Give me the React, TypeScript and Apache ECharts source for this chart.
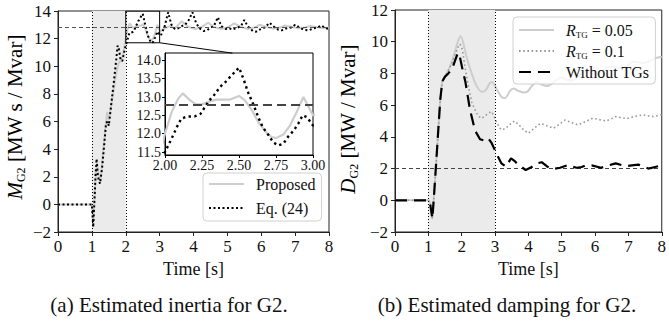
import React, { useEffect, useRef } from 'react';
import * as echarts from 'echarts';

// ---------- data ----------
const inertiaReference = 12.8;
const dampingReference = 2;
const faultWindowA = [1, 2];
const faultWindowB = [1, 3];
const zoomBox = [[2, 11.7], [3, 11.7], [3, 14], [2, 14], [2, 11.7]];
const zoomConnector = [[3, 11.7], [5.15, 10.95]];
const insetTicksY = [11.5, 12.0, 12.5, 13.0, 13.5, 14.0];

const proposedM = [
  [0, 0], [1.0, 0], [1.04, -1.4], [1.1, 1.5], [1.15, 3.0], [1.2, 2.2], [1.26, 1.8], [1.33, 3.8],
  [1.4, 5.6], [1.45, 6.7], [1.5, 6.1], [1.6, 7.6], [1.7, 9.2], [1.78, 10.2], [1.85, 10.4], [1.92, 10.8],
  [2.0, 12.0], [2.045, 12.59], [2.09, 12.96], [2.12, 13.1], [2.17, 12.91], [2.21, 12.8], [2.25, 12.8],
  [2.3, 12.88], [2.35, 12.93], [2.44, 12.93], [2.5, 13.03], [2.54, 12.91], [2.59, 12.62], [2.63, 12.32],
  [2.68, 12.05], [2.72, 11.91], [2.75, 11.88], [2.8, 11.98], [2.845, 12.23], [2.89, 12.59], [2.935, 13.0],
  [2.97, 12.73], [3.0, 12.5], [3.15, 12.75], [3.3, 12.9], [3.45, 12.75], [3.65, 13.25], [3.85, 12.85],
  [4.05, 12.7], [4.25, 12.85], [4.43, 13.15], [4.6, 12.85], [4.8, 12.7], [5.0, 12.8], [5.2, 13.1],
  [5.4, 12.85], [5.6, 12.7], [5.8, 12.8], [5.95, 13.0], [6.15, 12.85], [6.35, 12.72], [6.55, 12.8],
  [6.7, 12.95], [6.9, 12.85], [7.1, 12.75], [7.3, 12.8], [7.45, 12.92], [7.65, 12.82], [7.85, 12.75], [8.0, 12.8],
];

const eq24M = [
  [0, 0], [1.0, 0], [1.04, -1.65], [1.08, 0.5], [1.11, 2.2], [1.14, 3.3], [1.17, 2.2], [1.2, 1.8],
  [1.24, 1.5], [1.3, 2.6], [1.36, 4.2], [1.42, 5.9], [1.47, 6.0], [1.5, 5.7], [1.57, 7.2], [1.65, 8.9],
  [1.72, 10.5], [1.76, 11.5], [1.8, 11.2], [1.85, 10.4], [1.9, 10.4], [1.95, 11.0], [2.0, 11.5],
  [2.045, 11.87], [2.08, 12.18], [2.11, 12.41], [2.15, 12.47], [2.2, 12.47], [2.24, 12.54], [2.27, 12.73],
  [2.3, 12.91], [2.34, 13.09], [2.37, 13.27], [2.42, 13.45], [2.44, 13.55], [2.5, 13.8], [2.53, 13.5],
  [2.56, 13.14], [2.6, 12.77], [2.63, 12.45], [2.66, 12.18], [2.7, 11.96], [2.73, 11.77], [2.765, 11.68],
  [2.8, 11.73], [2.83, 11.91], [2.87, 12.09], [2.9, 12.27], [2.93, 12.5], [2.96, 12.45], [3.0, 12.22],
  [3.05, 12.3], [3.15, 12.9], [3.25, 13.9], [3.35, 13.0], [3.45, 12.7], [3.55, 12.75], [3.65, 12.9],
  [3.75, 13.0], [3.85, 13.3], [3.97, 13.9], [4.08, 13.1], [4.2, 12.7], [4.3, 12.55], [4.4, 12.6],
  [4.5, 12.8], [4.6, 12.9], [4.72, 13.55], [4.82, 12.9], [4.95, 12.7], [5.05, 12.75], [5.15, 12.65],
  [5.3, 12.8], [5.4, 12.9], [5.5, 13.35], [5.6, 12.9], [5.75, 12.55], [5.85, 12.5], [5.95, 12.65],
  [6.1, 12.8], [6.25, 13.15], [6.35, 12.9], [6.5, 12.65], [6.6, 12.6], [6.75, 12.75], [6.9, 12.8],
  [7.0, 13.0], [7.1, 12.85], [7.25, 12.65], [7.4, 12.6], [7.55, 12.75], [7.65, 12.8], [7.78, 12.95],
  [7.9, 12.75], [8.0, 12.7],
];

const rtg005D = [
  [0, 0], [1.0, 0], [1.06, -0.3], [1.12, -1.15], [1.17, 0.3], [1.23, 2.2], [1.3, 4.5], [1.36, 6.4],
  [1.42, 7.5], [1.5, 7.8], [1.6, 8.2], [1.7, 8.7], [1.8, 9.4], [1.9, 10.1], [1.97, 10.35], [2.05, 9.9],
  [2.15, 9.0], [2.3, 8.0], [2.45, 7.2], [2.6, 6.85], [2.72, 6.95], [2.85, 7.4], [2.92, 7.45], [3.05, 7.0],
  [3.2, 6.5], [3.3, 6.45], [3.45, 6.9], [3.55, 7.05], [3.7, 6.9], [3.85, 6.8], [3.97, 6.85], [4.1, 7.2],
  [4.25, 7.45], [4.4, 7.3], [4.55, 7.2], [4.7, 7.35], [4.85, 7.6], [5.0, 7.75], [5.15, 7.6], [5.3, 7.55],
  [5.45, 7.75], [5.6, 8.0], [5.75, 8.15], [5.9, 8.0], [6.05, 7.95], [6.2, 8.15], [6.4, 8.4], [6.55, 8.45],
  [6.7, 8.35], [6.85, 8.35], [7.0, 8.55], [7.15, 8.75], [7.3, 8.7], [7.45, 8.65], [7.6, 8.75], [7.8, 8.95],
  [8.0, 9.05],
];

const rtg01D = [
  [0, 0], [1.0, 0], [1.06, -0.3], [1.12, -1.15], [1.17, 0.3], [1.23, 2.2], [1.3, 4.5], [1.36, 6.4],
  [1.42, 7.5], [1.5, 7.8], [1.6, 8.2], [1.7, 8.6], [1.8, 9.2], [1.9, 9.7], [1.95, 9.85], [2.02, 9.5],
  [2.1, 8.4], [2.2, 7.2], [2.3, 6.2], [2.4, 5.7], [2.5, 5.3], [2.6, 5.17], [2.75, 5.4], [2.88, 5.6],
  [2.95, 5.4], [3.05, 4.9], [3.18, 4.45], [3.3, 4.5], [3.43, 4.75], [3.58, 5.0], [3.7, 4.8], [3.85, 4.45],
  [4.0, 4.23], [4.15, 4.5], [4.36, 4.85], [4.55, 4.7], [4.75, 4.54], [4.9, 4.75], [5.1, 5.06], [5.3, 4.9],
  [5.49, 4.75], [5.7, 4.95], [5.93, 5.17], [6.1, 5.1], [6.33, 5.0], [6.5, 5.15], [6.62, 5.28], [6.8, 5.2],
  [6.96, 5.15], [7.2, 5.3], [7.45, 5.38], [7.6, 5.32], [7.75, 5.28], [8.0, 5.4],
];

const withoutTgD = [
  [0, 0], [1.0, 0], [1.06, -0.3], [1.12, -1.15], [1.17, 0.3], [1.23, 2.2], [1.3, 4.5], [1.36, 6.4],
  [1.42, 7.5], [1.5, 7.8], [1.6, 8.0], [1.72, 8.32], [1.86, 9.16], [1.9, 9.3], [1.95, 9.0], [2.03, 8.2],
  [2.11, 7.48], [2.25, 5.7], [2.4, 4.4], [2.55, 3.85], [2.7, 3.75], [2.8, 3.9], [2.9, 3.6], [3.04, 2.96],
  [3.19, 2.33], [3.33, 2.12], [3.48, 2.65], [3.6, 2.45], [3.72, 2.2], [3.92, 1.91], [4.1, 2.1], [4.26, 2.33],
  [4.4, 2.4], [4.55, 2.15], [4.7, 1.96], [4.95, 2.05], [5.2, 2.23], [5.44, 2.05], [5.6, 2.1], [5.74, 2.23],
  [5.9, 2.2], [6.18, 2.05], [6.4, 2.2], [6.62, 2.33], [6.9, 2.15], [7.1, 2.2], [7.3, 2.25], [7.6, 2.0],
  [7.8, 2.1], [8.0, 2.2],
];

// ---------- styling ----------
const FONT = '"Liberation Serif", "Times New Roman", serif';
const AXIS = '#222';
const LIGHT = '#cdcdcd';
const minus = (v: number) => String(v).replace('-', '\u2212');

const titleRich = {
  i: { fontFamily: FONT, fontSize: 21, fontStyle: 'italic', color: '#111', lineHeight: 24 },
  s: { fontFamily: FONT, fontSize: 12, color: '#111', verticalAlign: 'bottom', lineHeight: 14 },
  n: { fontFamily: FONT, fontSize: 21, color: '#111', lineHeight: 24 },
};
const legendRich = {
  i: { fontFamily: FONT, fontSize: 16, fontStyle: 'italic', color: '#111', padding: [0, 0, 0, 7], lineHeight: 18 },
  s: { fontFamily: FONT, fontSize: 9, color: '#111', verticalAlign: 'bottom', lineHeight: 11 },
  n: { fontFamily: FONT, fontSize: 16, color: '#111', lineHeight: 18 },
  p: { fontFamily: FONT, fontSize: 16, color: '#111', padding: [0, 0, 0, 7], lineHeight: 18 },
};

function xAxisMain(gridIndex: number) {
  return {
    gridIndex, type: 'value', min: 0, max: 8, interval: 1,
    axisLine: { show: true, onZero: false, lineStyle: { color: AXIS, width: 1 } },
    axisTick: { show: true, length: 4, lineStyle: { color: AXIS } },
    axisLabel: { fontFamily: FONT, fontSize: 17, color: '#111', margin: 6 },
    splitLine: { show: false },
    name: 'Time [s]', nameLocation: 'middle', nameGap: 28, nameMoveOverlap: false,
    nameTextStyle: { fontFamily: FONT, fontSize: 18, color: '#111' },
  };
}

function yAxisMain(gridIndex: number, min: number, max: number) {
  return {
    gridIndex, type: 'value', min, max, interval: 2,
    axisLine: { show: true, onZero: false, lineStyle: { color: AXIS, width: 1 } },
    axisTick: { show: true, length: 4, lineStyle: { color: AXIS } },
    axisLabel: { fontFamily: FONT, fontSize: 17, color: '#111', margin: 7, formatter: minus },
    splitLine: { show: false },
  };
}

const noSymbolLegend = { opacity: 0, borderWidth: 0 };

export default function App() {
  const ref = useRef<HTMLDivElement>(null);

  useEffect(() => {
    if (!ref.current) return;
    const chart = echarts.init(ref.current, undefined, { renderer: 'svg' });

    const vLine = (x: number) => ({ xAxis: x, lineStyle: { color: '#000', width: 1, type: [1, 2] } });

    const option: any = {
      animation: false,
      backgroundColor: '#fff',
      grid: [
        { left: 58, top: 11, width: 271, height: 221, show: true, borderColor: AXIS, borderWidth: 1, backgroundColor: 'transparent' },
        { left: 165, top: 53, width: 148, height: 102, show: true, borderColor: '#000', borderWidth: 1, backgroundColor: '#fff' },
        { left: 395, top: 10, width: 272, height: 222, show: true, borderColor: AXIS, borderWidth: 1, backgroundColor: 'transparent' },
      ],
      xAxis: [
        xAxisMain(0),
        {
          gridIndex: 1, type: 'value', min: 2, max: 3, interval: 0.25,
          axisLine: { show: true, onZero: false, lineStyle: { color: '#000' } },
          axisTick: { show: true, length: 3, lineStyle: { color: '#000' } },
          axisLabel: { fontFamily: FONT, fontSize: 14, color: '#111', margin: 3, formatter: (v: number) => v.toFixed(2) },
          splitLine: { show: false },
        },
        xAxisMain(2),
      ],
      yAxis: [
        yAxisMain(0, -2, 14),
        {
          gridIndex: 1, type: 'value', min: 11.42, max: 14.2,
          axisLine: { show: true, onZero: false, lineStyle: { color: '#000' } },
          axisTick: { show: true, length: 3, customValues: insetTicksY, lineStyle: { color: '#000' } },
          axisLabel: { fontFamily: FONT, fontSize: 14, color: '#111', margin: 4, customValues: insetTicksY, formatter: (v: number) => v.toFixed(1) },
          splitLine: { show: false },
        },
        yAxisMain(2, -2, 12),
      ],
      legend: [
        {
          data: ['Proposed', 'Eq. (24)'],
          orient: 'vertical', left: 203, top: 173,
          padding: [3, 6, 5, 5], itemWidth: 35, itemHeight: 12, itemGap: 8,
          backgroundColor: 'rgba(255,255,255,0.8)', borderColor: '#d0d0d0', borderWidth: 1, borderRadius: 4,
          selectedMode: false, itemStyle: noSymbolLegend,
          formatter: (n: string) => '{p|' + n + '}',
          textStyle: { rich: legendRich },
        },
        {
          data: ['R_TG = 0.05', 'R_TG = 0.1', 'Without TGs'],
          orient: 'vertical', left: 513, top: 17,
          padding: [5, 6, 4, 5], itemWidth: 35, itemHeight: 12, itemGap: 4,
          backgroundColor: 'rgba(255,255,255,0.8)', borderColor: '#d0d0d0', borderWidth: 1, borderRadius: 4,
          selectedMode: false, itemStyle: noSymbolLegend,
          formatter: (n: string) => {
            if (n === 'R_TG = 0.05') return '{i|R}{s|TG}{n| = 0.05}';
            if (n === 'R_TG = 0.1') return '{i|R}{s|TG}{n| = 0.1}';
            return '{p|' + n + '}';
          },
          textStyle: { rich: legendRich },
        },
      ],
      graphic: [
        { type: 'text', x: 15, y: 117, rotation: Math.PI / 2,
          style: { text: '{i|M}{s|G2}{n| [MW s / Mvar]}', rich: titleRich, textAlign: 'center', textVerticalAlign: 'middle' } },
        { type: 'text', x: 348, y: 119, rotation: Math.PI / 2,
          style: { text: '{i|D}{s|G2}{n| [MW / Mvar]}', rich: titleRich, textAlign: 'center', textVerticalAlign: 'middle' } },
        { type: 'text', style: { text: '(a) Estimated inertia for G2.', x: 169, y: 305, textAlign: 'center', textVerticalAlign: 'middle', font: '21px ' + FONT, fill: '#111' } },
        { type: 'text', style: { text: '(b) Estimated damping for G2.', x: 507, y: 305, textAlign: 'center', textVerticalAlign: 'middle', font: '21px ' + FONT, fill: '#111' } },
      ],
      series: [
        // ----- left main -----
        {
          type: 'line', xAxisIndex: 0, yAxisIndex: 0, data: [], z: 1, silent: true,
          markArea: { silent: true, itemStyle: { color: '#ebebeb' }, data: [[{ xAxis: faultWindowA[0] }, { xAxis: faultWindowA[1] }]] },
          markLine: {
            silent: true, symbol: ['none', 'none'], label: { show: false },
            data: [vLine(faultWindowA[0]), vLine(faultWindowA[1]),
              { yAxis: inertiaReference, lineStyle: { color: '#555', width: 1, type: [4, 3] } }],
          },
        },
        { name: 'Proposed', type: 'line', xAxisIndex: 0, yAxisIndex: 0, data: proposedM, showSymbol: false, symbol: 'none', z: 3,
          lineStyle: { color: LIGHT, width: 2 }, itemStyle: { color: LIGHT } },
        { name: 'Eq. (24)', type: 'line', xAxisIndex: 0, yAxisIndex: 0, data: eq24M, showSymbol: false, symbol: 'none', z: 4,
          lineStyle: { color: '#000', width: 2, type: [2, 2.5] }, itemStyle: { color: '#000' } },
        { type: 'line', xAxisIndex: 0, yAxisIndex: 0, data: zoomBox, showSymbol: false, symbol: 'none', z: 5, silent: true,
          lineStyle: { color: '#000', width: 1 } },
        { type: 'line', xAxisIndex: 0, yAxisIndex: 0, data: zoomConnector, showSymbol: false, symbol: 'none', z: 5, silent: true,
          lineStyle: { color: '#000', width: 1 } },
        // ----- inset -----
        { type: 'line', xAxisIndex: 1, yAxisIndex: 1, data: [], z: 1, silent: true,
          markLine: { silent: true, symbol: ['none', 'none'], label: { show: false },
            data: [{ yAxis: inertiaReference, lineStyle: { color: '#444', width: 2, type: [9, 5] } }] } },
        { name: 'Proposed', type: 'line', xAxisIndex: 1, yAxisIndex: 1, data: proposedM, showSymbol: false, symbol: 'none', z: 3,
          lineStyle: { color: LIGHT, width: 2.2 }, itemStyle: { color: LIGHT } },
        { name: 'Eq. (24)', type: 'line', xAxisIndex: 1, yAxisIndex: 1, data: eq24M, showSymbol: false, symbol: 'none', z: 4,
          lineStyle: { color: '#000', width: 2.4, type: [2.4, 3.4] }, itemStyle: { color: '#000' } },
        // ----- right -----
        {
          type: 'line', xAxisIndex: 2, yAxisIndex: 2, data: [], z: 1, silent: true,
          markArea: { silent: true, itemStyle: { color: '#ebebeb' }, data: [[{ xAxis: faultWindowB[0] }, { xAxis: faultWindowB[1] }]] },
          markLine: {
            silent: true, symbol: ['none', 'none'], label: { show: false },
            data: [vLine(faultWindowB[0]), vLine(faultWindowB[1]),
              { yAxis: dampingReference, lineStyle: { color: '#444', width: 1, type: [4, 3] } }],
          },
        },
        { name: 'R_TG = 0.05', type: 'line', xAxisIndex: 2, yAxisIndex: 2, data: rtg005D, showSymbol: false, symbol: 'none', z: 3, smooth: 0.3,
          lineStyle: { color: LIGHT, width: 2 }, itemStyle: { color: LIGHT } },
        { name: 'R_TG = 0.1', type: 'line', xAxisIndex: 2, yAxisIndex: 2, data: rtg01D, showSymbol: false, symbol: 'none', z: 4,
          lineStyle: { color: '#999', width: 1.6, type: [1.6, 2.6] }, itemStyle: { color: '#999' } },
        { name: 'Without TGs', type: 'line', xAxisIndex: 2, yAxisIndex: 2, data: withoutTgD, showSymbol: false, symbol: 'none', z: 5,
          lineStyle: { color: '#000', width: 2.2, type: [12, 7] }, itemStyle: { color: '#000' } },
      ],
    };

    chart.setOption(option);
    return () => chart.dispose();
  }, []);

  return <div ref={ref} style={{ position: 'absolute', left: 0, top: 0, width: 669, height: 322 }} />;
}
